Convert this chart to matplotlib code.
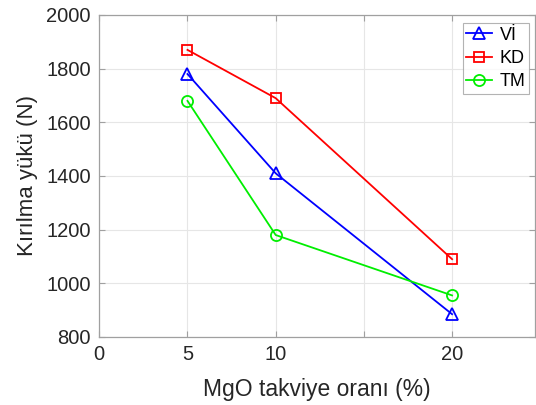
import matplotlib
matplotlib.use('Agg')
import matplotlib.pyplot as plt

plt.rcParams['font.family'] = ['Liberation Sans', 'DejaVu Sans']

# 数据
mgo = [5, 10, 20]
vi = [1780, 1410, 885]
kd = [1870, 1690, 1090]
tm = [1680, 1180, 955]

xticks = [0, 5, 10, 15, 20]
xticklabels = ['0', '5', '10', '', '20']
yticks = [800, 1000, 1200, 1400, 1600, 1800, 2000]

fig = plt.figure(figsize=(5.36, 4.05), dpi=100)
ax = fig.add_axes([99.3 / 536, 1 - 337 / 405, (535 - 99.3) / 536, (337 - 15) / 405])

ax.plot(mgo, vi, color='#0000FF', marker='^', markersize=8, markerfacecolor='none',
        markeredgewidth=1.3, linewidth=1.3, label='Vİ')
ax.plot(mgo, kd, color='#FF0000', marker='s', markersize=7, markerfacecolor='none',
        markeredgewidth=1.3, linewidth=1.3, label='KD')
ax.plot(mgo, tm, color='#00EE00', marker='o', markersize=8, markerfacecolor='none',
        markeredgewidth=1.3, linewidth=1.3, label='TM')

ax.set_xlim(0, 24.7)
ax.set_ylim(800, 2000)
ax.set_xticks(xticks)
ax.set_xticklabels(xticklabels)
ax.set_yticks(yticks)

ax.grid(True, color='#e6e6e6', linewidth=0.8)
ax.set_axisbelow(True)
for s in ax.spines.values():
    s.set_color('#a0a0a0')
    s.set_linewidth(0.9)
ax.tick_params(direction='in', length=4, color='#a0a0a0', labelsize=14.5,
               labelcolor='#262626', top=True, right=True)
ax.tick_params(axis='x', pad=6)
ax.tick_params(axis='y', pad=6)

ax.set_xlabel('MgO takviye oranı (%)', fontsize=16.5, color='#262626', labelpad=10)
ax.set_ylabel('Kırılma yükü (N)', fontsize=16, color='#262626', labelpad=6)

leg = ax.legend(loc='upper right', fontsize=13, frameon=True, fancybox=False,
                edgecolor='#a0a0a0', handlelength=1.45, borderpad=0.2,
                labelspacing=0.35, handletextpad=0.4, borderaxespad=0,
                bbox_to_anchor=((529 - 99.3) / 435.7, 1 - 8 / 322))
leg.get_frame().set_linewidth(0.8)

plt.savefig('out.png', dpi=100)
plt.close()
